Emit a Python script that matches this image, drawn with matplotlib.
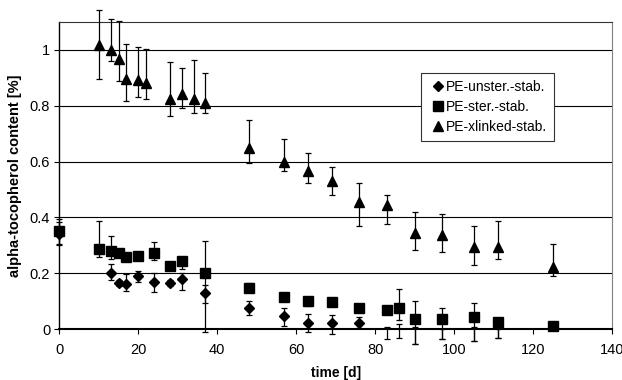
import matplotlib
matplotlib.use("Agg")
import matplotlib.pyplot as plt
import numpy as np

plt.rcParams['font.family'] = ['Liberation Sans', 'DejaVu Sans']

# PE-unster.-stab. (values below zero are hidden by the axis, only their error bars show)
t_uns = [0, 13, 15, 17, 20, 24, 28, 31, 37, 48, 57, 63, 69, 76, 83, 86, 90, 97, 105, 111]
v_uns = [0.34, 0.20, 0.166, 0.161, 0.19, 0.168, 0.166, 0.18, 0.129, 0.077, 0.047, 0.024, 0.024, 0.024,
         -0.03, -0.03, -0.03, -0.03, -0.03, -0.03]
lo_uns = [0.04, 0.025, 0.01, 0.024, 0.02, 0.034, 0.01, 0.04, 0.035, 0.027, 0.035, 0.035, 0.04, 0.02,
          0.005, 0.0, 0.022, 0.005, 0.013, 0.0]
hi_uns = [0.045, 0.033, 0.01, 0.035, 0.02, 0.032, 0.01, 0.02, 0.03, 0.023, 0.028, 0.031, 0.026, 0.021,
          0.038, 0.048, 0.04, 0.03, 0.04, 0.03]

# PE-ster.-stab.
t_st = [0, 10, 13, 15, 17, 20, 24, 28, 31, 37, 48, 57, 63, 69, 76, 83, 86, 90, 97, 105, 111, 125]
v_st = [0.35, 0.287, 0.281, 0.272, 0.259, 0.263, 0.273, 0.226, 0.244, 0.20, 0.149, 0.114, 0.102, 0.096,
        0.075, 0.069, 0.077, 0.037, 0.036, 0.043, 0.027, 0.013]
lo_st = [0.045, 0.03, 0.03, 0.01, 0.01, 0.01, 0.026, 0.01, 0.03, 0.21, 0.01, 0.01, 0.017, 0.01,
         0.01, 0.01, 0.044, 0.09, 0.07, 0.086, 0.057, 0.005]
hi_st = [0.045, 0.101, 0.053, 0.01, 0.01, 0.01, 0.038, 0.01, 0.01, 0.115, 0.016, 0.005, 0.005, 0.005,
         0.01, 0.01, 0.066, 0.065, 0.039, 0.052, 0.005, 0.005]

# PE-xlinked-stab.
t_xl = [10, 13, 15, 17, 20, 22, 28, 31, 34, 37, 48, 57, 63, 69, 76, 83, 90, 97, 105, 111, 125]
v_xl = [1.015, 1.0, 0.965, 0.895, 0.89, 0.88, 0.825, 0.84, 0.825, 0.81, 0.65, 0.60, 0.565, 0.53,
        0.456, 0.444, 0.345, 0.337, 0.295, 0.295, 0.224]
lo_xl = [0.12, 0.04, 0.078, 0.08, 0.061, 0.058, 0.063, 0.047, 0.051, 0.036, 0.056, 0.035, 0.043, 0.049,
         0.086, 0.068, 0.062, 0.061, 0.065, 0.044, 0.034]
hi_xl = [0.125, 0.108, 0.139, 0.126, 0.119, 0.122, 0.129, 0.094, 0.139, 0.108, 0.099, 0.079, 0.064, 0.049,
         0.068, 0.037, 0.075, 0.076, 0.074, 0.093, 0.08]

fig = plt.figure(figsize=(6.22, 3.8), dpi=100)
ax = fig.add_axes([0.0953, 0.1334, 0.8887, 0.8096])

series = [
    (t_uns, v_uns, lo_uns, hi_uns, 'D', 5.4, 'PE-unster.-stab.'),
    (t_st, v_st, lo_st, hi_st, 's', 6.8, 'PE-ster.-stab.'),
    (t_xl, v_xl, lo_xl, hi_xl, '^', 7.8, 'PE-xlinked-stab.'),
]
handles = []
for t, v, lo, hi, mk, ms, lab in series:
    eb = ax.errorbar(t, v, yerr=[lo, hi], fmt='none', ecolor='black', elinewidth=0.9,
                     capsize=2.2, capthick=0.9, zorder=3)
    for art in list(eb.lines[1]) + list(eb.lines[2]):
        art.set_clip_on(False)
    # points below the axis minimum are not drawn, like in the original
    vm = np.ma.masked_less(np.array(v), 0)
    ln, = ax.plot(t, vm, linestyle='none', marker=mk, markersize=ms, color='black', zorder=4,
                  label=lab, clip_on=False)
    handles.append(ln)

ax.set_xlim(0, 140)
ax.set_ylim(0, 1.1)
ax.set_xticks(np.arange(0, 141, 20))
ax.set_yticks([0, 0.2, 0.4, 0.6, 0.8, 1.0])
ax.set_yticklabels(['0', '0.2', '0.4', '0.6', '0.8', '1'])
ax.yaxis.grid(True, color='black', linewidth=0.8)
ax.set_axisbelow(True)
ax.tick_params(axis='both', direction='out', length=3.5, width=0.8, labelsize=10.5)
ax.tick_params(axis='x', pad=6)
ax.tick_params(axis='y', pad=3)

ax.spines['bottom'].set_linewidth(1.5)
ax.spines['left'].set_linewidth(1.0)
ax.spines['top'].set_color('#333333')
ax.spines['right'].set_color('#808080')

ax.set_xlabel('time [d]', fontsize=10, fontweight='bold', labelpad=7)
ax.set_ylabel('alpha-tocopherol content [%]', fontsize=10.5, fontweight='bold', labelpad=6)

leg = ax.legend(handles=handles, loc='upper left', bbox_to_anchor=(0.654, 0.834), fontsize=10,
                frameon=True, fancybox=False, framealpha=1, edgecolor='#333333',
                handlelength=1.5, handletextpad=-0.2, borderpad=0.5, labelspacing=0.45,
                borderaxespad=0)
leg.get_frame().set_linewidth(0.8)

fig.savefig('out.png', dpi=100)
